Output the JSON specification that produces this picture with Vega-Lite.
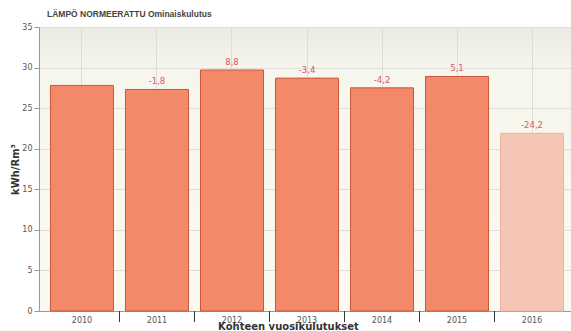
{
  "$schema": "https://vega.github.io/schema/vega-lite/v6.json",
  "autosize": "none",
  "width": 536,
  "height": 284,
  "padding": {"left": 39, "top": 27, "right": 0, "bottom": 20},
  "background": "white",
  "config": {
    "view": {
      "fill": {"gradient": "linear", "x1": 0, "y1": 0, "x2": 0, "y2": 1, "stops": [{"offset": 0, "color": "#ebebe3"}, {"offset": 0.15, "color": "#f6f6ec"}, {"offset": 1, "color": "#fafaf0"}]},
      "stroke": "#bbbbbb",
      "strokeWidth": 1
    },
    "font": "DejaVu Sans"
  },
  "title": {
    "text": "LÄMPÖ NORMEERATTU Ominaiskulutus",
    "anchor": "start",
    "frame": "group",
    "dx": 8,
    "offset": 5,
    "font": "Liberation Sans",
    "fontSize": 8.5,
    "fontWeight": "bold",
    "color": "#444444"
  },
  "data": {
    "values": [
      {"year": "2010", "value": 27.8, "change": "", "kind": "actual"},
      {"year": "2011", "value": 27.3, "change": "-1,8", "kind": "actual"},
      {"year": "2012", "value": 29.7, "change": "8,8", "kind": "actual"},
      {"year": "2013", "value": 28.7, "change": "-3,4", "kind": "actual"},
      {"year": "2014", "value": 27.5, "change": "-4,2", "kind": "actual"},
      {"year": "2015", "value": 28.9, "change": "5,1", "kind": "actual"},
      {"year": "2016", "value": 21.9, "change": "-24,2", "kind": "partial"}
    ]
  },
  "encoding": {
    "x": {
      "field": "year",
      "type": "ordinal",
      "scale": {"paddingInner": 0.16, "paddingOuter": 0.153},
      "axis": {
        "title": "Kohteen vuosikulutukset",
        "titleFontSize": 10,
        "titleFontWeight": "bold",
        "titleColor": "#333333",
        "titlePadding": -3,
        "titleX": 249,
        "labelAngle": 0,
        "labelFontSize": 8,
        "labelColor": "#555555",
        "labelPadding": 5,
        "ticks": false,
        "domainColor": "#999999",
        "grid": true,
        "gridColor": "#dddddd"
      }
    }
  },
  "layer": [
    {
      "mark": {"type": "bar", "strokeWidth": 1},
      "encoding": {
        "y": {
          "field": "value",
          "type": "quantitative",
          "scale": {"domain": [0, 35]},
          "axis": {
            "title": "kWh/Rm³",
            "titleFontSize": 10,
            "titleFontWeight": "bold",
            "titleColor": "#333333",
            "titlePadding": 1,
            "values": [0, 5, 10, 15, 20, 25, 30, 35],
            "labelFontSize": 8,
            "labelColor": "#555555",
            "labelPadding": 2,
            "tickSize": 5,
            "tickColor": "#999999",
            "domainColor": "#999999",
            "gridColor": "#dddddd"
          }
        },
        "fill": {
          "field": "kind",
          "type": "nominal",
          "scale": {"domain": ["actual", "partial"], "range": ["#f4896a", "#f5c5b5"]},
          "legend": null
        },
        "stroke": {
          "field": "kind",
          "type": "nominal",
          "scale": {"domain": ["actual", "partial"], "range": ["#c9583a", "#f0b0a0"]},
          "legend": null
        }
      }
    },
    {
      "mark": {"type": "text", "baseline": "bottom", "dy": -3, "fontSize": 8.5, "color": "#e0556a"},
      "encoding": {
        "y": {"field": "value", "type": "quantitative"},
        "text": {"field": "change"}
      }
    },
    {
      "transform": [{"filter": "datum.year != '2016'"}],
      "mark": {"type": "rule", "color": "#333333", "strokeWidth": 1, "clip": false, "y2Offset": 11},
      "encoding": {
        "x": {"field": "year", "type": "ordinal", "bandPosition": 1.095},
        "y": {"datum": 0},
        "y2": {"datum": 0}
      }
    }
  ]
}
